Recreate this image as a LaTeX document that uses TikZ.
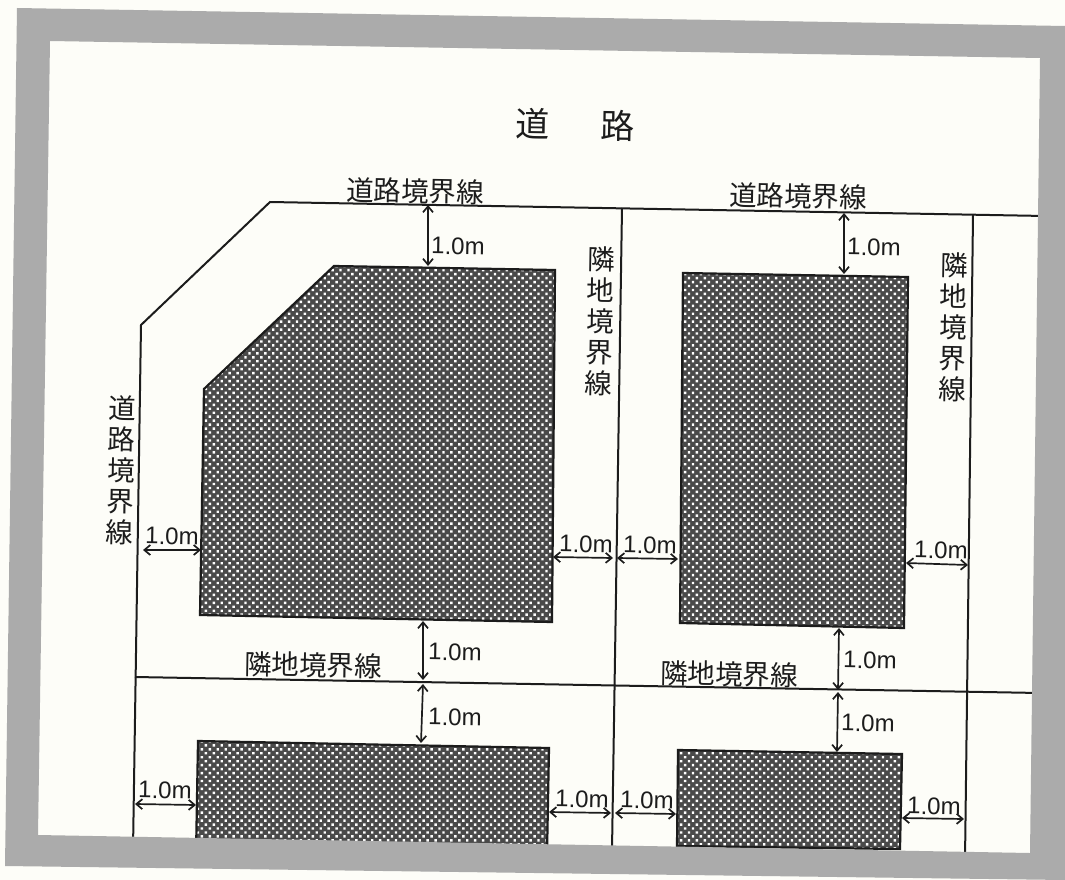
\documentclass[tikz,border=0pt]{standalone}
\usepackage{fontspec}
\setmainfont{Liberation Sans}
\newfontfamily\jpfont{Noto Sans CJK JP}
\usetikzlibrary{arrows.meta,patterns.meta}
\definecolor{paper}{HTML}{FDFDF8}
\definecolor{frame}{HTML}{ABABAB}
\definecolor{ink}{HTML}{1C1C1C}
\definecolor{hatch}{HTML}{4A4A4A}
\newcommand*\pitch{31pt}
\tikzset{
    boundary/.style = {draw=ink, line width=2pt},
    building/.style = {draw=ink, line width=2.2pt, preaction={fill=hatch},
                      pattern={Dots[distance=5.6pt,angle=45,radius=1.7pt]},
                      pattern color=white},
    gap/.style      = {draw=ink, line width=1.7pt,
                      {Straight Barb[length=6pt,width=10pt]}-{Straight Barb[length=6pt,width=10pt]}},
    gaplabel/.style = {text=ink, font=\fontsize{24}{26}\selectfont, inner sep=0pt, rotate=-1},
    linelabel/.style= {text=ink, font=\jpfont\fontsize{27.5}{30}\selectfont, inner sep=0pt, rotate=-1},
    stacklabel/.style = {text=ink, font=\jpfont\fontsize{27.5}{\pitch}\selectfont, inner sep=0pt,
                      align=center, rotate=-1},
  }
\begin{document}
\begin{tikzpicture}[x=1pt,y=-1pt]
        \useasboundingbox (0,0) rectangle (1065,880);
        \fill[paper] (0,0) rectangle (1065,880);

        % Boundary lines of the two rows of plots
        \draw[boundary] (1045,216) -- (270,202) -- (141,325) -- (133,850);
        \draw[boundary] (622,208) -- (612,850);
        \draw[boundary] (973,215) -- (965,860);
        \draw[boundary] (135,677) -- (1040,693);

        % Buildings
        \draw[building] (334,266) -- (555,270) -- (552,622) -- (200,615) -- (204,389) -- cycle;
        \draw[building] (683,273) -- (908,277) -- (904,628) -- (680,623) -- cycle;
        \draw[building] (198,741) -- (549,748) -- (547,855) -- (196,855) -- cycle;
        \draw[building] (678,750) -- (902,754) -- (900,849) -- (677,846) -- cycle;

        % Scanned page border, on top of everything that runs off the page
        \fill[frame, even odd rule] (17,8) -- (1065,26) -- (1065,880) -- (5,866) -- cycle
            (50,41) -- (1040,58) -- (1030,853) -- (38,835) -- cycle;

        % Distance arrows, each with its label
        \foreach \xa/\ya/\xb/\yb/\lx/\ly [count=\i from 1] in {
            428/205/428/266/458/246, 844/213/844/274/874/247,
            143/550/201/550/172/536, 553/557/613/558/586/544,
            617/558/678/559/650/545, 906/563/968/565/941/550,
            423/621/423/680/455/652, 423/684/421/743/455/717,
            839/628/838/690/870/660, 838/692/837/752/868/723,
            135/804/196/805/165/790, 549/812/611/813/582/799,
            615/813/676/814/647/800, 902/818/964/819/934/806} {
            \coordinate (gap\i a) at (\xa,\ya);
            \coordinate (gap\i b) at (\xb,\yb);
            \draw[gap] (gap\i a) -- (gap\i b);
            \node[gaplabel] (dist\i) at (\lx,\ly) {1.0m};
        }

        % Line names
        \node[text=ink, font=\jpfont\fontsize{34}{36}\selectfont, inner sep=0pt, rotate=-1] (road) at (575,125) {道\hspace{51pt}路};
        \node[linelabel] (roadlineA) at (415,191) {道路境界線};
        \node[linelabel] (roadlineB) at (798,196) {道路境界線};
        \node[linelabel] (sidelineA) at (313,665) {隣地境界線};
        \node[linelabel] (sidelineB) at (729,674) {隣地境界線};
        \node[stacklabel] (roadlineC) at (121,470) {道\\路\\境\\界\\線};
        \node[stacklabel] (sidelineC) at (600,321) {隣\\地\\境\\界\\線};
        \node[stacklabel] (sidelineD) at (953,327) {隣\\地\\境\\界\\線};
    \end{tikzpicture}
\end{document}
